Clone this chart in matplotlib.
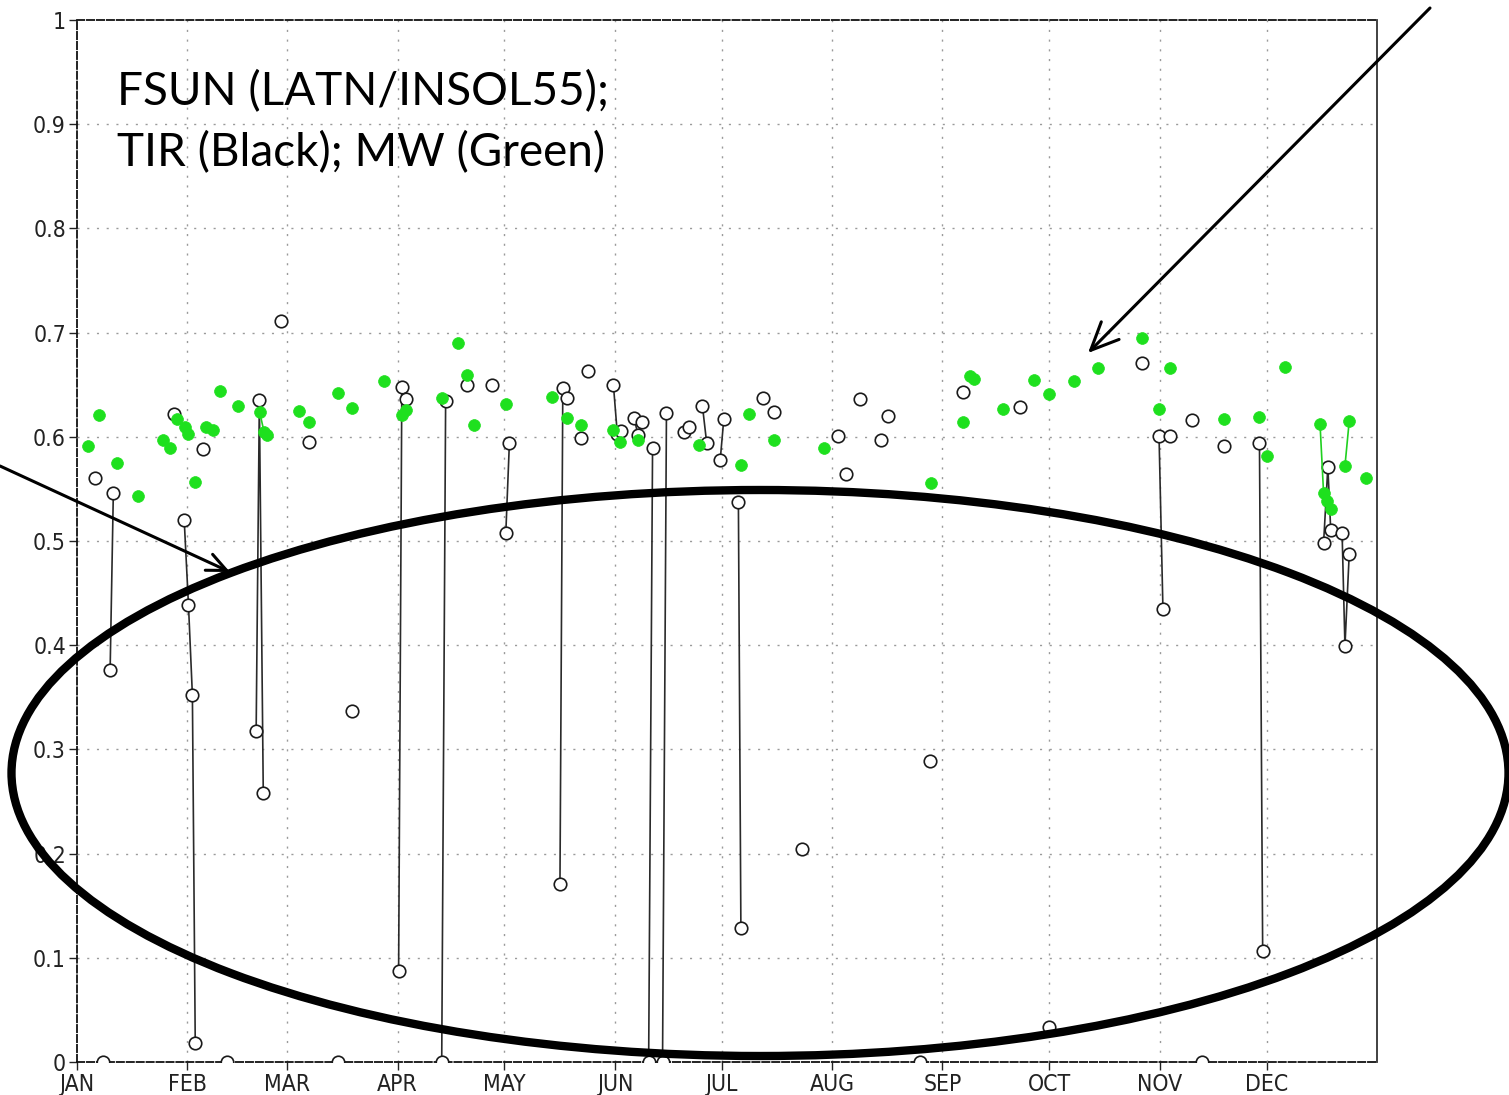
import numpy as np
import matplotlib
matplotlib.use("Agg")
import matplotlib.pyplot as plt
from matplotlib import font_manager
from matplotlib.font_manager import FontProperties
from matplotlib.patches import Ellipse, FancyArrowPatch

# ---------------- data ----------------
months = ["JAN", "FEB", "MAR", "APR", "MAY", "JUN", "JUL", "AUG", "SEP", "OCT", "NOV", "DEC"]
month_start = [0, 31, 59, 90, 120, 151, 181, 212, 243, 273, 304, 334]
yticks = [0, 0.1, 0.2, 0.3, 0.4, 0.5, 0.6, 0.7, 0.8, 0.9, 1.0]
ytick_labels = ["0", "0.1", "0.2", "0.3", "0.4", "0.5", "0.6", "0.7", "0.8", "0.9", "1"]

nan = np.nan
# TIR (black open circles); nan separates unconnected runs
tir_day = [5.1, nan, 7.2, nan, 9.3, 10.2, nan, 27.2, nan,
           30.1, 31.3, 32.4, 33.2, nan, 35.3, nan, 42.2, nan,
           50.3, 51.2, 52.3, nan, 57.3, nan, 65.2, nan, 73.4, nan, 77.2, nan,
           90.3, 91.2, 92.4, nan, 102.4, 103.5, nan, 109.4, nan, 116.4, nan,
           120.4, 121.4, nan, 135.6, 136.4, 137.5, nan, 141.4, nan, 143.5, nan,
           150.6, 151.7, 152.8, nan, 156.4, 157.5, 158.5, nan, 160.5, 161.6, nan,
           164.4, 165.5, nan, 170.3, 171.7, nan, 175.6, 176.8, nan, 180.6, 181.6, nan,
           185.7, 186.4, nan, 192.7, nan, 195.6, nan, 203.5, nan, 213.7, nan, 215.8, nan,
           219.8, nan, 225.7, nan, 227.8, nan, 236.8, nan, 239.5, nan, 248.8, nan,
           264.7, nan, 272.9, nan, 298.9, nan, 303.8, 304.9, nan, 306.9, nan, 313.0, nan,
           315.8, nan, 322.0, nan, 332.0, 332.9, nan, 350.0, 351.2, 352.0, nan,
           355.2, 356.0, 357.2]
tir_val = [0.560, nan, 0.0, nan, 0.376, 0.546, nan, 0.622, nan,
           0.520, 0.4386, 0.352, 0.018, nan, 0.588, nan, 0.0, nan,
           0.318, 0.635, 0.258, nan, 0.711, nan, 0.595, nan, 0.0, nan, 0.337, nan,
           0.0875, 0.648, 0.636, nan, 0.0, 0.634, nan, 0.650, nan, 0.650, nan,
           0.508, 0.594, nan, 0.171, 0.6465, 0.6376, nan, 0.599, nan, 0.663, nan,
           0.650, 0.603, 0.6056, nan, 0.618, 0.602, 0.614, nan, 0.0, 0.589, nan,
           0.0, 0.623, nan, 0.605, 0.609, nan, 0.6296, 0.594, nan, 0.578, 0.617, nan,
           0.537, 0.1286, nan, 0.637, nan, 0.624, nan, 0.2044, nan, 0.601, nan, 0.564, nan,
           0.6366, nan, 0.597, nan, 0.620, nan, 0.0, nan, 0.289, nan, 0.643, nan,
           0.629, nan, 0.034, nan, 0.671, nan, 0.601, 0.4345, nan, 0.601, nan, 0.616, nan,
           0.0, nan, 0.591, nan, 0.594, 0.107, nan, 0.498, 0.571, 0.511, nan,
           0.508, 0.399, 0.4875]

# MW (green filled dots); nan separates unconnected runs
mw_day = [3.2, nan, 6.2, nan, 11.2, nan, 17.0, nan, 24.2, nan, 26.2, nan, 28.2, nan,
          30.2, 31.3, nan, 33.1, nan, 36.1, nan, 38.1, nan, 40.2, nan, 45.3, nan,
          51.3, 52.5, 53.3, nan, 62.3, nan, 65.2, nan, 73.3, nan, 77.3, nan, 86.3, nan,
          91.2, 92.5, nan, 102.5, nan, 107.0, nan, 109.4, nan, 111.5, nan, 120.4, nan,
          133.4, nan, 137.5, nan, 141.4, nan, 150.6, nan, 152.4, nan, 157.6, nan,
          174.6, nan, 186.5, nan, 188.6, nan, 195.6, nan, 209.6, nan, 239.7, nan,
          248.8, nan, 250.7, 251.9, nan, 259.9, nan, 268.8, nan, 272.9, nan, 279.8, nan,
          286.8, nan, 298.9, nan, 303.8, nan, 306.8, nan, 322.0, nan, 332.0, nan,
          334.0, nan, 339.1, nan, 349.0, 350.0, 351.0, 352.0, nan, 356.0, 357.2, nan, 362.0]
mw_val = [0.591, nan, 0.621, nan, 0.575, nan, 0.543, nan, 0.597, nan, 0.589, nan, 0.617, nan,
          0.609, 0.603, nan, 0.557, nan, 0.609, nan, 0.607, nan, 0.644, nan, 0.630, nan,
          0.6235, 0.605, 0.602, nan, 0.625, nan, 0.614, nan, 0.642, nan, 0.628, nan, 0.6535, nan,
          0.621, 0.626, nan, 0.637, nan, 0.690, nan, 0.659, nan, 0.611, nan, 0.6315, nan,
          0.638, nan, 0.618, nan, 0.611, nan, 0.607, nan, 0.595, nan, 0.597, nan,
          0.592, nan, 0.573, nan, 0.622, nan, 0.597, nan, 0.589, nan, 0.556, nan,
          0.6145, nan, 0.658, 0.6555, nan, 0.627, nan, 0.6545, nan, 0.641, nan, 0.654, nan,
          0.666, nan, 0.695, nan, 0.627, nan, 0.666, nan, 0.617, nan, 0.619, nan,
          0.582, nan, 0.667, nan, 0.6126, 0.546, 0.538, 0.531, nan, 0.572, 0.615, nan, 0.560]

annotation_lines = ["FSUN (LATN/INSOL55);", "TIR (Black); MW (Green)"]

# ---------------- fonts ----------------
installed = {f.name for f in font_manager.fontManager.ttflist}
if "Liberation Sans Narrow" in installed:
    tick_fp = FontProperties(family="Liberation Sans Narrow", size=17.5)
else:
    tick_fp = FontProperties(family="DejaVu Sans", stretch="condensed", size=16.5)
note_font = "Lato" if "Lato" in installed else "DejaVu Sans"

# ---------------- figure ----------------
W, H = 1509, 1095
fig = plt.figure(figsize=(W / 100, H / 100), dpi=100)
ax = fig.add_axes([77 / W, 1 - 1062 / H, 1300 / W, 1042 / H])
ax.set_xlim(0, 365)
ax.set_ylim(0, 1)

grid_kw = dict(color="#9a9a9a", linewidth=1.0, linestyle=(0, (1.5, 5.5)), zorder=0)
for v in yticks[1:-1]:
    ax.axhline(v, **grid_kw)
for m in month_start[1:]:
    ax.axvline(m, **grid_kw)

ax.plot(tir_day, tir_val, color="#2a2a2a", linewidth=1.2, marker="o", markersize=9,
        markerfacecolor="white", markeredgecolor="#1a1a1a", markeredgewidth=1.2, zorder=3)
ax.plot(mw_day, mw_val, color="#20d020", linewidth=1.2, marker="o", markersize=8.5,
        markerfacecolor="#1ee01e", markeredgecolor="#1ee01e", markeredgewidth=0.5, zorder=4)

ax.set_xticks(month_start)
ax.set_xticklabels(months, fontproperties=tick_fp, color="#222222")
ax.set_yticks(yticks)
ax.set_yticklabels(ytick_labels, fontproperties=tick_fp, color="#222222")
ax.tick_params(axis="both", direction="out", length=6, width=1.0, color="#222222", pad=2)

for side in ["left", "top", "bottom"]:
    ax.spines[side].set_linestyle((0, (4, 1.5)))
    ax.spines[side].set_linewidth(1.3)
    ax.spines[side].set_color("#111111")
ax.spines["right"].set_linewidth(1.3)
ax.spines["right"].set_color("#333333")

# annotation text (two lines placed by baseline)
fig.text(117 / W, 1 - 105 / H, annotation_lines[0], fontsize=33, family=note_font,
         ha="left", va="baseline", color="black")
fig.text(117 / W, 1 - 166 / H, annotation_lines[1], fontsize=33, family=note_font,
         ha="left", va="baseline", color="black")

# big ellipse (figure pixel coordinates)
ell = Ellipse((760 / W, 1 - 773 / H), 1497 / W, 566 / H, transform=fig.transFigure,
              fill=False, edgecolor="black", linewidth=6, zorder=10)
fig.patches.append(ell)

# arrows
arrow_kw = dict(arrowstyle="->,head_length=1.0,head_width=0.45", color="black", lw=2.2,
                shrinkA=0, shrinkB=0)
fig.add_artist(FancyArrowPatch((0 / W, 1 - 466 / H), (230 / W, 1 - 572 / H),
               transform=fig.transFigure, mutation_scale=14, **arrow_kw))
fig.add_artist(FancyArrowPatch((1430 / W, 1 - 8 / H), (1088 / W, 1 - 353 / H),
               transform=fig.transFigure, mutation_scale=20, **arrow_kw))

fig.savefig("out.png", dpi=100)
